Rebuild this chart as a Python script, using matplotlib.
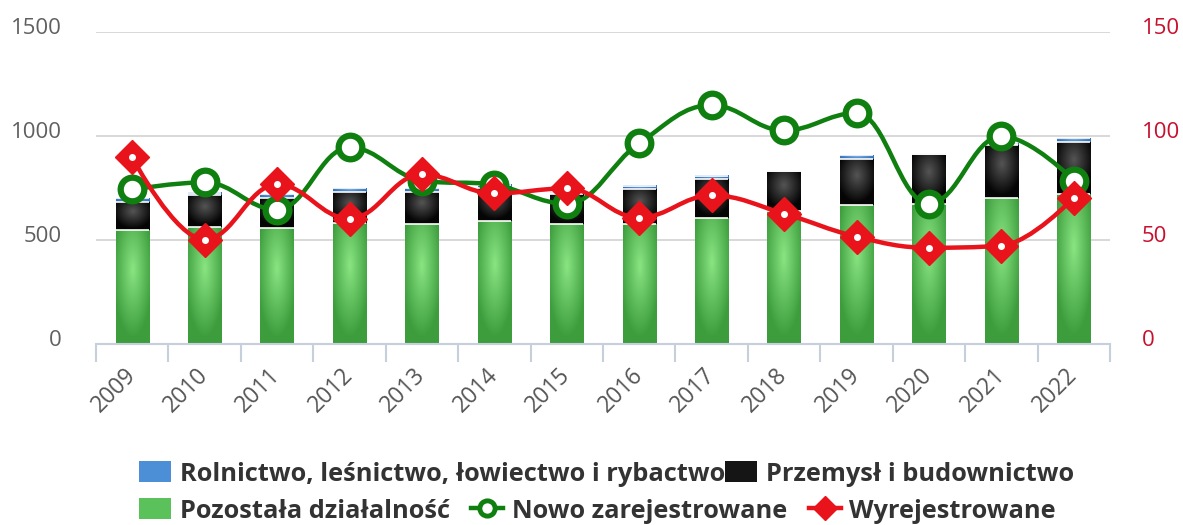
import matplotlib
matplotlib.use("Agg")
import matplotlib.pyplot as plt
import matplotlib.transforms as mtransforms
import numpy as np
from matplotlib.lines import Line2D
from matplotlib.patches import Patch, PathPatch
from matplotlib.path import Path

plt.rcParams["font.family"] = ["Open Sans", "DejaVu Sans"]

years = ["2009", "2010", "2011", "2012", "2013", "2014", "2015",
         "2016", "2017", "2018", "2019", "2020", "2021", "2022"]
pozostala = [550, 564, 560, 584, 579, 589, 579, 579, 608, 641, 670, 675, 704, 719]
przemysl = [135, 150, 144, 149, 154, 160, 140, 164, 183, 189, 218, 237, 251, 251]
rolnictwo = [15, 14, 19, 15, 15, 15, 6, 19, 19, 2, 19, 2, 5, 19]
nowo = [74.3, 77.7, 64.6, 94.5, 78.6, 76.5, 67.5, 96.5, 114.8, 102.7, 111.0, 67.5, 99.9, 78.6]
wyrej = [89.7, 50.2, 76.7, 60.3, 81.5, 72.4, 74.8, 60.8, 71.4, 62.7, 51.6, 46.3, 47.3, 70.4]

GREEN_LINE = "#0f7f0f"
RED_LINE = "#e8131b"
BAR_W = 0.46


def radial(c_edge, c_mid, shape=(60, 24)):
    h, w = shape
    v, u = np.mgrid[-1:1:complex(0, h), -1:1:complex(0, w)]
    r = np.clip(np.sqrt(u ** 2 + (v + 0.3) ** 2) / 1.2, 0, 1)[..., None]
    a = np.array(matplotlib.colors.to_rgb(c_mid))
    b = np.array(matplotlib.colors.to_rgb(c_edge))
    return a * (1 - r) + b * r


def spline(xs, ys, smoothing=1.5):
    n = len(xs)
    denom = smoothing + 1
    lc = [(x, y) for x, y in zip(xs, ys)]
    rc = [(x, y) for x, y in zip(xs, ys)]
    for i in range(1, n - 1):
        px, py = xs[i], ys[i]
        lx, ly = xs[i - 1], ys[i - 1]
        nx, ny = xs[i + 1], ys[i + 1]
        lcx = (smoothing * px + lx) / denom
        lcy = (smoothing * py + ly) / denom
        rcx = (smoothing * px + nx) / denom
        rcy = (smoothing * py + ny) / denom
        corr = (rcy - lcy) * (rcx - px) / (rcx - lcx) + py - rcy
        lcy += corr
        rcy += corr
        if lcy > ly and lcy > py:
            lcy = max(ly, py)
            rcy = 2 * py - lcy
        elif lcy < ly and lcy < py:
            lcy = min(ly, py)
            rcy = 2 * py - lcy
        if rcy > ny and rcy > py:
            rcy = max(ny, py)
            lcy = 2 * py - rcy
        elif rcy < ny and rcy < py:
            rcy = min(ny, py)
            lcy = 2 * py - rcy
        lc[i] = (lcx, lcy)
        rc[i] = (rcx, rcy)
    verts = [(xs[0], ys[0])]
    codes = [Path.MOVETO]
    for i in range(1, n):
        verts += [rc[i - 1], lc[i], (xs[i], ys[i])]
        codes += [Path.CURVE4] * 3
    return Path(verts, codes)


fig = plt.figure(figsize=(11.83, 5.25), dpi=100)
ax = fig.add_axes([96 / 1183, 1 - 344 / 525, (1110 - 96) / 1183, (344 - 32) / 525])
ax2 = ax.twinx()

x = np.arange(len(years))
stacks = [(pozostala, "#3d9d3d", "#8ae582"),
          (przemysl, "#050505", "#555555"),
          (rolnictwo, "#2f6fb8", "#7fb2e8")]
bottom = np.zeros(len(years))
for vals, c_edge, c_mid in stacks:
    img = radial(c_edge, c_mid)
    for xi, b, v in zip(x, bottom, vals):
        if v <= 0:
            continue
        ax.imshow(img, extent=[xi - BAR_W / 2, xi + BAR_W / 2, b, b + v],
                  aspect="auto", origin="upper", zorder=2, interpolation="bilinear")
        ax.plot([xi - BAR_W / 2, xi + BAR_W / 2], [b + v, b + v], color="white",
                lw=1.2, zorder=2.5, solid_capstyle="butt")
    bottom = bottom + np.array(vals)

ax.set_xlim(-0.5, len(years) - 0.5)
ax.set_ylim(0, 1500)
ax2.set_ylim(0, 150)
ax.set_yticks([0, 500, 1000, 1500])
ax2.set_yticks([0, 50, 100, 150])
ax.grid(axis="y", color="#d6d6d6", lw=1.3, zorder=0)
ax.set_axisbelow(True)

for a in (ax, ax2):
    for s in a.spines.values():
        s.set_visible(False)
ax.spines["bottom"].set_visible(True)
ax.spines["bottom"].set_color("#c6cfdc")
ax.spines["bottom"].set_linewidth(1.5)

ax.set_xticks(x)
ax.set_xticklabels(years, rotation=45, ha="right", va="center", rotation_mode="anchor",
                   fontsize=16.5, color="#555555")
ax.set_xticks(np.arange(-0.5, len(years)), minor=True)
ax.tick_params(axis="x", which="major", length=0, pad=20)
ax.tick_params(axis="x", which="minor", length=13, width=1.5, color="#c6cfdc")
ax.tick_params(axis="y", length=0, pad=24.5, labelsize=16, labelcolor="#606060")
ax2.tick_params(axis="y", length=0, pad=23, labelsize=16, labelcolor="#c8102e")

shift = mtransforms.ScaledTranslation(0, 4 / 72, fig.dpi_scale_trans)
for lab in ax.get_yticklabels() + ax2.get_yticklabels():
    lab.set_transform(lab.get_transform() + shift)

ax2.add_patch(PathPatch(spline(x, nowo), fill=False, edgecolor=GREEN_LINE,
                        lw=3.2, zorder=3, capstyle="round", joinstyle="round"))
ax2.add_patch(PathPatch(spline(x, wyrej), fill=False, edgecolor=RED_LINE,
                        lw=3.2, zorder=4, capstyle="round", joinstyle="round"))
ax2.plot(x, nowo, ls="none", marker="o", ms=17, mfc="white", mec=GREEN_LINE,
         mew=4.5, zorder=3.5)
ax2.plot(x, wyrej, ls="none", marker="D", ms=17, mfc=RED_LINE, mec=RED_LINE,
         mew=1, zorder=4.5)
ax2.plot(x, wyrej, ls="none", marker="o", ms=4, mfc="white", mec="white", zorder=4.6)

leg_font = {"size": 18.3, "weight": "bold"}
row1 = [Patch(facecolor="#4d8fd6", edgecolor="none"),
        Patch(facecolor="#151515", edgecolor="none")]
row1_lab = ["Rolnictwo, leśnictwo, łowiectwo i rybactwo", "Przemysł i budownictwo"]
row2 = [Patch(facecolor="#5bc25b", edgecolor="none"),
        Line2D([], [], color=GREEN_LINE, lw=3.2, marker="o", ms=11, mfc="white",
               mec=GREEN_LINE, mew=3.5),
        Line2D([], [], color=RED_LINE, lw=3.2, marker="D", ms=12, mfc=RED_LINE,
               mec=RED_LINE)]
row2_lab = ["Pozostała działalność", "Nowo zarejestrowane", "Wyrejestrowane"]

for handles, labels, yy, gap in ((row1, row1_lab, 1 - 474 / 525, 0.0),
                                  (row2, row2_lab, 1 - 511 / 525, 0.85)):
    fig.legend(handles, labels, loc="center left", bbox_to_anchor=(139 / 1183, yy),
               ncol=len(handles), frameon=False, prop=leg_font, labelcolor="#333333",
               handlelength=1.25, handleheight=0.9, handletextpad=0.35,
               columnspacing=gap, borderpad=0, borderaxespad=0)

fig.savefig("out.png", dpi=100)
